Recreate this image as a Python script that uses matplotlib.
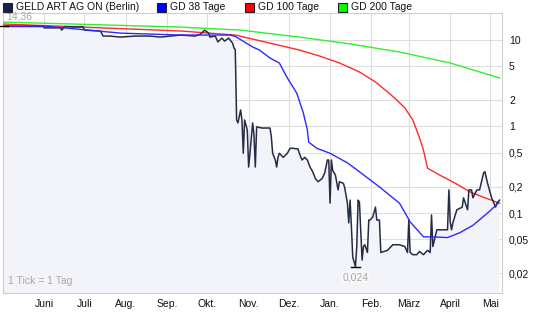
import numpy as np
import pandas as pd
import matplotlib
matplotlib.use("Agg")
import matplotlib.pyplot as plt
import matplotlib.dates as mdates
from matplotlib.patches import Rectangle

plt.rcParams['font.family'] = ['Liberation Sans', 'DejaVu Sans']

# ---- data (day offset from start date, value in EUR) ----
start = pd.Timestamp("2008-05-01")

price_days = [0, 30, 31, 43, 44, 46, 47, 54, 60, 61, 73, 75, 80, 88, 99, 110, 118, 133, 144, 148,
              151, 154, 155, 159, 161, 164, 166, 169, 172, 173, 174, 175, 176, 178, 179, 180, 181, 183,
              184, 185, 187, 188, 189, 190, 194, 198, 200, 201, 202, 204, 205, 206, 207, 210, 213, 215,
              217, 221, 222, 224, 226, 228, 230, 232, 234, 236, 239, 241, 243, 244, 245, 246, 247, 249,
              251, 252, 255, 256, 258, 259, 260, 261, 262, 264, 265, 266, 267, 269, 270, 271, 273, 274,
              275, 277, 279, 280, 282, 283, 288, 292, 297, 301, 303, 304, 305, 307, 310, 312, 315, 318,
              320, 321, 322, 325, 327, 333, 334, 335, 336, 337, 340, 344, 345, 348, 349, 351, 352, 355,
              357, 360, 361, 363, 366, 369, 370, 372]
price_vals = [14.36, 14.3, 13.8, 13.8, 13.0, 14.1, 14.3, 14.1, 14.2, 13.0, 12.7, 11.1, 11.1, 10.8, 11.1,
              11.1, 10.8, 11.4, 11.1, 11.7, 13.0, 12.0, 10.8, 11.1, 9.5, 10.5, 9.7, 10.5, 9.2, 8.1, 7.7,
              1.19, 1.10, 1.55, 1.19, 0.49, 1.19, 0.91, 0.34, 0.49, 1.10, 0.80, 0.34, 0.99, 0.96, 0.96,
              0.96, 0.76, 0.49, 0.41, 0.34, 0.44, 0.49, 0.44, 0.49, 0.56, 0.56, 0.55, 0.49, 0.41, 0.44,
              0.41, 0.34, 0.30, 0.25, 0.23, 0.25, 0.29, 0.41, 0.41, 0.13, 0.41, 0.31, 0.275, 0.185, 0.23,
              0.22, 0.195, 0.13, 0.077, 0.141, 0.069, 0.031, 0.024, 0.041, 0.141, 0.134, 0.0286, 0.041,
              0.043, 0.035, 0.083, 0.083, 0.090, 0.117, 0.083, 0.083, 0.035, 0.037, 0.043, 0.043, 0.041,
              0.035, 0.083, 0.035, 0.033, 0.033, 0.036, 0.033, 0.037, 0.035, 0.095, 0.041, 0.064, 0.064,
              0.064, 0.185, 0.079, 0.064, 0.077, 0.109, 0.117, 0.15, 0.109, 0.185, 0.185, 0.15, 0.185,
              0.185, 0.29, 0.30, 0.22, 0.15, 0.117, 0.13, 0.141]

gd38_days = [0, 31, 88, 133, 170, 174, 187, 192, 200, 207, 213, 220, 225, 228, 229, 235, 245, 258, 267,
             282, 297, 305, 315, 322, 333, 342, 352, 363, 371]
gd38_vals = [14.5, 14.5, 12.0, 11.4, 11.4, 11.0, 8.3, 7.66, 6.19, 5.42, 3.64, 2.44, 1.43, 0.91, 0.66,
             0.56, 0.49, 0.38, 0.30, 0.20, 0.13, 0.079, 0.053, 0.053, 0.052, 0.059, 0.072, 0.10, 0.13]

gd100_days = [0, 133, 174, 222, 237, 252, 267, 279, 290, 295, 301, 307, 312, 315, 318, 327, 339, 350, 361, 372]
gd100_vals = [15.3, 12.7, 11.4, 7.66, 6.53, 5.42, 4.27, 3.27, 2.37, 2.02, 1.64, 1.19, 0.74, 0.53, 0.33,
              0.275, 0.22, 0.175, 0.15, 0.13]

gd200_days = [0, 133, 178, 222, 260, 297, 335, 372]
gd200_vals = [16.1, 14.1, 13.0, 10.8, 9.0, 7.26, 5.42, 3.64]

month_labels = ["Juni", "Juli", "Aug.", "Sep.", "Okt.", "Nov.", "Dez.", "Jan.", "Feb.", "März", "April", "Mai"]
y_ticks = [10, 5, 2, 1, 0.5, 0.2, 0.1, 0.05, 0.02]
y_labels = ["10", "5", "2", "1", "0,5", "0,2", "0,1", "0,05", "0,02"]

legend_names = ["GELD ART AG ON (Berlin)", "GD 38 Tage", "GD 100 Tage", "GD 200 Tage"]
legend_colors = ["#18204a", "#0000ff", "#ff0000", "#00ff00"]


def to_dates(days):
    return start + pd.to_timedelta(days, unit="D")


fig = plt.figure(figsize=(5.45, 3.27), dpi=100)
ax = fig.add_axes([3 / 545, 1 - 293 / 327, 499 / 545, 280 / 327])

px = to_dates(price_days)
ax.fill_between(px, price_vals, 1e-3, color="#f3f4fa", lw=0, zorder=1)
ax.plot(to_dates(gd200_days), gd200_vals, color="#33ee33", lw=1.0, zorder=3)
ax.plot(to_dates(gd100_days), gd100_vals, color="#ff2a2a", lw=1.0, zorder=3)
ax.plot(px, price_vals, color="#252c45", lw=1.1, zorder=4)
ax.plot(to_dates(gd38_days), gd38_vals, color="#2a2aff", lw=1.0, zorder=5)

ax.set_yscale("log")
ax.set_ylim(0.0119, 20.5)
ax.set_xlim(to_dates([0])[0], to_dates([373.8])[0])

ax.yaxis.tick_right()
ax.set_yticks(y_ticks)
ax.set_yticklabels(y_labels)
ax.yaxis.set_minor_locator(matplotlib.ticker.NullLocator())
ax.set_xticks(to_dates([31, 61, 92, 123, 153, 184, 214, 245, 276, 304, 335, 365]))
ax.set_xticklabels(month_labels)
ax.tick_params(length=0, labelsize=7.5, colors="#111111", pad=4)
ax.tick_params(axis="y", pad=5)
ax.grid(True, color="#dedede", lw=0.8, zorder=0)
ax.set_axisbelow(True)
for s in ax.spines.values():
    s.set_color("#cfcfcf")
    s.set_linewidth(0.8)

# max / min markers
ax.text(0.006, 1.005, "14,36", transform=ax.transAxes, color="#a8a8a8", fontsize=7.5, va="top", ha="left",
        zorder=7)
ax.plot([to_dates([-2.2])[0], to_dates([4])[0]], [14.36, 14.36], color="black", lw=1, clip_on=False, zorder=6)
imin = int(np.argmin(price_vals))
dmin = to_dates([price_days[imin]])[0]
ax.plot([to_dates([price_days[imin] - 3.5])[0], to_dates([price_days[imin] + 3.5])[0]],
        [price_vals[imin]] * 2, color="black", lw=1, zorder=6)
ax.text(dmin, price_vals[imin] * 0.86, "0,024", color="#a8a8a8", fontsize=7.5, ha="center", va="top",
        bbox=dict(boxstyle="square,pad=0.1", fc="#f8f8f8", ec="none"), zorder=6)
ax.text(0.01, 0.025, "1 Tick = 1 Tag", transform=ax.transAxes, color="#a8a8a8", fontsize=7.5, va="bottom")

# legend
leg_x = [3, 157, 245, 338]
for x0, name, col in zip(leg_x, legend_names, legend_colors):
    fig.patches.append(Rectangle((x0 / 545, 1 - 12 / 327), 9 / 545, 9 / 327, transform=fig.transFigure,
                                 fc=col, ec="#222222", lw=0.8))
    fig.text((x0 + 13) / 545, 1 - 7.5 / 327, name, fontsize=7.5, va="center", ha="left", color="#111111")

fig.savefig("out.png", dpi=100)
